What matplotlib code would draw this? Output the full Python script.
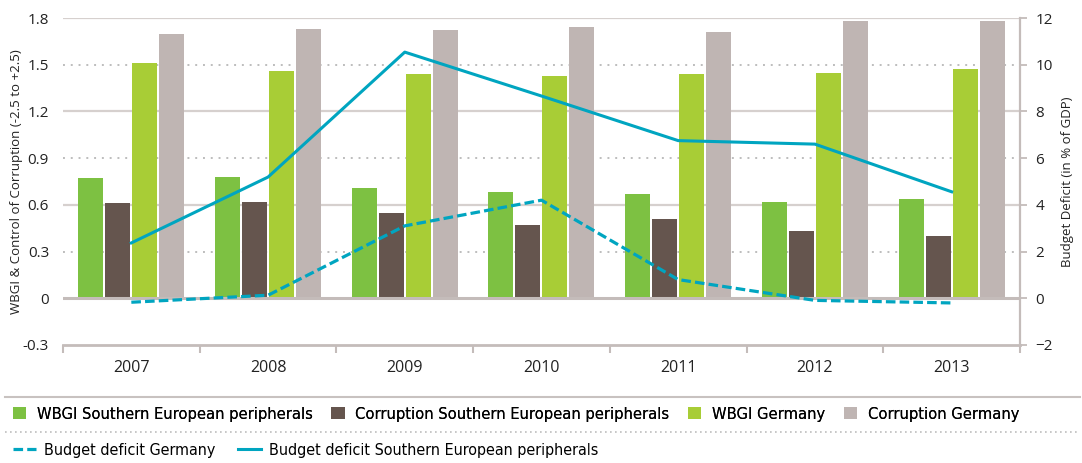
import matplotlib.pyplot as plt
from matplotlib import font_manager
import numpy as np
from matplotlib.lines import Line2D

years = ["2007", "2008", "2009", "2010", "2011", "2012", "2013"]

# left axis: WBGI & control of corruption
wbgi_south = [0.77, 0.78, 0.71, 0.68, 0.67, 0.62, 0.64]
corr_south = [0.61, 0.62, 0.55, 0.47, 0.51, 0.43, 0.40]
wbgi_germany = [1.51, 1.46, 1.44, 1.43, 1.44, 1.45, 1.47]
corr_germany = [1.70, 1.73, 1.72, 1.74, 1.71, 1.78, 1.78]

# right axis: budget deficit in % of GDP
deficit_germany = [-0.17, 0.13, 3.1, 4.2, 0.8, -0.09, -0.2]
deficit_south = [2.37, 5.19, 10.54, 8.66, 6.75, 6.6, 4.56]

c_green = "#7dc142"
c_brown = "#65554e"
c_lime = "#a8cd36"
c_gray = "#bfb5b3"
c_line = "#00a5c0"
c_axis = "#c4bcba"

plt.rcParams["font.family"] = ["Open Sans", "DejaVu Sans"]

fig = plt.figure(figsize=(10.82, 4.63), dpi=100)
ax = fig.add_axes([0.0582, 0.2549, 0.8845, 0.7062])

x = np.arange(len(years))
w = 0.183
step = 0.1975
series = [(wbgi_south, c_green, "WBGI Southern European peripherals"),
          (corr_south, c_brown, "Corruption Southern European peripherals"),
          (wbgi_germany, c_lime, "WBGI Germany"),
          (corr_germany, c_gray, "Corruption Germany")]
bar_handles = []
for i, (vals, col, lab) in enumerate(series):
    b = ax.bar(x + (i - 1.5) * step, vals, w, color=col, label=lab, zorder=3)
    bar_handles.append(b)

ax.set_xlim(-0.5, len(years) - 0.5)
ax.set_ylim(-0.3, 1.8)
yt = [-0.3, 0, 0.3, 0.6, 0.9, 1.2, 1.5, 1.8]
ax.set_yticks(yt)
ax.set_yticklabels(["-0.3", "0", "0.3", "0.6", "0.9", "1.2", "1.5", "1.8"])
for v in [0.6, 1.2, 1.8]:
    ax.axhline(v, color="#d6d0ce", lw=1.6, zorder=1)
for v in [0.3, 0.9, 1.5]:
    ax.axhline(v, color="#bdbdbd", lw=1.4, ls=(0, (1, 3)), zorder=1)
ax.axhline(0, color=c_axis, lw=2.2, zorder=4)

ax.set_xticks(np.arange(len(years) + 1) - 0.5)
ax.set_xticklabels([])
ax.set_xticks(x, minor=True)
ax.set_xticklabels(years, minor=True, fontsize=11.5, color="#222222")
ax.tick_params(axis="x", which="major", length=6, width=1.5, color=c_axis, direction="out")
ax.tick_params(axis="x", which="minor", length=0, pad=11)
ax.tick_params(axis="y", length=0, labelsize=11, labelcolor="#222222", pad=10)
for s in ["top", "left", "right"]:
    ax.spines[s].set_visible(False)
ax.spines["bottom"].set_color(c_axis)
ax.spines["bottom"].set_linewidth(2)
ax.set_ylabel("WBGI & Control of Corruption (-2.5 to +2.5)", fontsize=9.5, color="#222222", labelpad=0)

ax2 = ax.twinx()
ax2.set_ylim(-2, 12)
ax2.set_yticks([-2, 0, 2, 4, 6, 8, 10, 12])
ln_de, = ax2.plot(x, deficit_germany, color=c_line, lw=2.3, ls=(0, (3, 1.3)), zorder=5,
                  label="Budget deficit Germany")
ln_s, = ax2.plot(x, deficit_south, color=c_line, lw=2.2, zorder=5,
                 label="Budget deficit Southern European peripherals")
for s in ["top", "left", "bottom"]:
    ax2.spines[s].set_visible(False)
ax2.spines["right"].set_color(c_axis)
ax2.spines["right"].set_linewidth(1.6)
ax2.tick_params(axis="y", length=5, width=1.3, color=c_axis, labelsize=11, labelcolor="#222222", pad=6)
ax2.set_ylabel("Budget Deficit (in % of GDP)", fontsize=9.5, color="#222222", labelpad=6)

# separators of the legend area
fig.add_artist(Line2D([0.005, 0.998], [1 - 397 / 463] * 2, color="#c8c2c0", lw=1.5))
fig.add_artist(Line2D([0.005, 0.998], [1 - 432 / 463] * 2, color="#bdbdbd", lw=1.2, ls=(0, (1, 2))))

leg_font = font_manager.FontProperties(family=["DejaVu Sans"], stretch="condensed", size=11.8)
leg_font2 = font_manager.FontProperties(family=["DejaVu Sans"], stretch="condensed", size=11.5)
leg1 = fig.legend(handles=bar_handles, loc="center left", bbox_to_anchor=(0.012, 1 - 414 / 463),
                  ncol=4, frameon=False, prop=leg_font, handlelength=0.8, handleheight=0.8,
                  handletextpad=0.65, columnspacing=1.15, borderaxespad=0, borderpad=0)
fig.legend(handles=[ln_de, ln_s], loc="center left", bbox_to_anchor=(0.012, 1 - 450 / 463),
           ncol=2, frameon=False, prop=leg_font2, handlelength=1.45,
           handletextpad=0.5, columnspacing=1.4, borderaxespad=0, borderpad=0)
fig.add_artist(leg1)

fig.savefig("out.png", dpi=100)
